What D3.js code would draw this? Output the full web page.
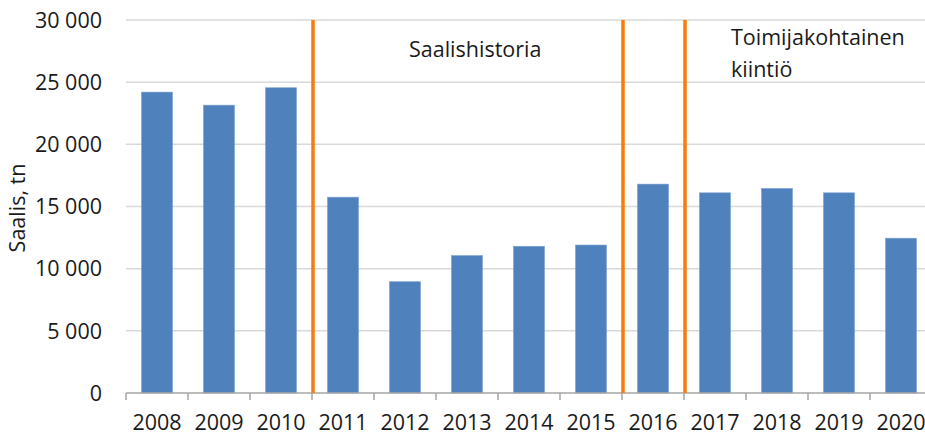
<!doctype html>
<html>
<head>
    <meta charset="utf-8">
    <script src="https://d3js.org/d3.v7.min.js"></script>
    <style>
        body { margin: 0; background: #fff; }
        text { font-family: "Open Sans", sans-serif; fill: #1a1a1a; }
    </style>
</head>
<body>
    <script>
        var years = ["2008", "2009", "2010", "2011", "2012", "2013", "2014", "2015", "2016", "2017", "2018", "2019", "2020"];
        var catch_tn = [24200, 23150, 24550, 15750, 8950, 11050, 11800, 11900, 16800, 16100, 16450, 16100, 12450];
        var yTicks = [0, 5000, 10000, 15000, 20000, 25000, 30000];
        // orange separators sit on the left edge of these years
        var splitYears = ["2011", "2016", "2017"];
        var notes = [
            { year: "2011", lines: ["Saalishistoria"] },
            { year: "2017", lines: ["Toimijakohtainen", "kiintiö"] }
        ];

        var width = 925, height = 436;
        var mLeft = 126, mRight = 932, mTop = 20, mBottom = 393;
        var fs = 21.5;

        var svg = d3.select("body").append("svg")
            .attr("width", width)
            .attr("height", height);

        var x = d3.scaleBand()
            .domain(years)
            .range([mLeft, mRight])
            .paddingInner(0.5)
            .paddingOuter(0.25);

        var y = d3.scaleLinear()
            .domain([0, 30000])
            .range([mBottom, mTop]);

        var fmt = function (d) { return d3.format(",")(d).replace(/,/g, " "); };

        // gridlines
        svg.append("g")
            .selectAll("line")
            .data(yTicks.slice(1))
            .enter().append("line")
            .attr("x1", mLeft)
            .attr("x2", width)
            .attr("y1", function (d) { return y(d); })
            .attr("y2", function (d) { return y(d); })
            .attr("stroke", "#d9d9d9")
            .attr("stroke-width", 1.5);

        // y labels
        svg.append("g")
            .selectAll("text")
            .data(yTicks)
            .enter().append("text")
            .attr("x", 102)
            .attr("y", function (d) { return y(d); })
            .attr("dy", "0.36em")
            .attr("text-anchor", "end")
            .attr("font-size", fs)
            .text(fmt);

        // bars
        svg.append("g")
            .selectAll("rect")
            .data(years)
            .enter().append("rect")
            .attr("x", function (d) { return x(d); })
            .attr("width", x.bandwidth())
            .attr("y", function (d, i) { return y(catch_tn[i]); })
            .attr("height", function (d, i) { return y(0) - y(catch_tn[i]); })
            .attr("fill", "#4f81bd")
            .attr("stroke", "#7a9fd0")
            .attr("stroke-width", 0.6);

        var step = x.step();
        var edge = function (yr) { return x(yr) - step * x.paddingInner() / 2; };

        // x axis line and ticks
        var ax = svg.append("g").attr("stroke", "#a6a6a6").attr("stroke-width", 1.5);
        ax.append("line")
            .attr("x1", mLeft).attr("x2", width)
            .attr("y1", mBottom).attr("y2", mBottom);
        ax.selectAll(".tk")
            .data(years)
            .enter().append("line")
            .attr("class", "tk")
            .attr("x1", function (d) { return Math.round(edge(d)); })
            .attr("x2", function (d) { return Math.round(edge(d)); })
            .attr("y1", mBottom)
            .attr("y2", mBottom + 7);

        // x labels
        svg.append("g")
            .selectAll("text")
            .data(years)
            .enter().append("text")
            .attr("x", function (d) { return x(d) + x.bandwidth() / 2; })
            .attr("y", 430)
            .attr("text-anchor", "middle")
            .attr("font-size", fs)
            .text(function (d) { return d; });

        // orange separators
        svg.append("g")
            .selectAll("line")
            .data(splitYears)
            .enter().append("line")
            .attr("x1", function (d) { return edge(d) + 1; })
            .attr("x2", function (d) { return edge(d) + 1; })
            .attr("y1", y(30000))
            .attr("y2", y(0))
            .attr("stroke", "#fa7a0a")
            .attr("stroke-width", 3.5);

        // annotations
        notes.forEach(function (n) {
            var t = svg.append("text")
                .attr("font-size", fs);
            n.lines.forEach(function (ln, i) {
                t.append("tspan")
                    .attr("x", edge(n.year) + (n.year === "2011" ? 97 : 47))
                    .attr("y", n.year === "2011" ? 57 : 45 + i * 32)
                    .text(ln);
            });
        });

        // axis title
        svg.append("text")
            .attr("transform", "translate(25,208) rotate(-90)")
            .attr("text-anchor", "middle")
            .attr("font-size", fs)
            .text("Saalis, tn");
    </script>
</body>
</html>
